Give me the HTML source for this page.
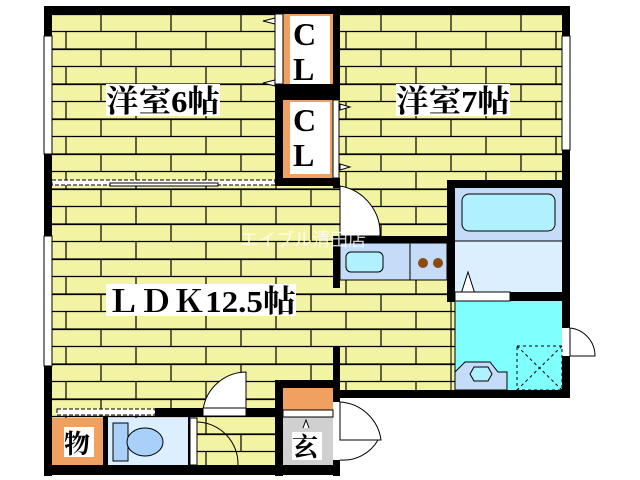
<!DOCTYPE html>
<html><head><meta charset="utf-8"><style>body{margin:0;background:#fff}svg{display:block}</style></head><body>
<svg width="640" height="480" viewBox="0 0 640 480" xmlns="http://www.w3.org/2000/svg">
<defs>
<pattern id="fl" x="52" y="14" width="140" height="35" patternUnits="userSpaceOnUse">
<rect width="140" height="35" fill="#f3f3a4"/>
<path d="M0 0.5H140M0 17.5H140M0 35H140M49 0V17.5M119 0V17.5M14 17.5V35M84 17.5V35" stroke="#000" stroke-width="1.2" fill="none"/>
</pattern>
</defs>
<rect x="52" y="14" width="510" height="376" fill="url(#fl)"/>
<rect x="52" y="390" width="281" height="80" fill="url(#fl)"/>
<rect x="455" y="187" width="107" height="105" fill="#dcefff"/>
<rect x="455" y="187" width="107" height="54" fill="#c4dcf8"/>
<rect x="462" y="194" width="93" height="37" rx="7" fill="#b0f0ff" stroke="#000"/>
<line x1="455" y1="241" x2="562" y2="241" stroke="#000"/>
<path d="M461 294 L468 272 L475 294 Z" fill="#fff" stroke="#000"/>
<rect x="455" y="301" width="107" height="89" fill="#80ffff"/>
<path d="M455 390 V372 L465 362 H490 L498 372 H507 V390 Z" fill="#c4dcf8" stroke="#000"/>
<path d="M470 374 L474 367 H488 L492 374 L488 381 H474 Z" fill="#b0f0ff" stroke="#000"/>
<rect x="517" y="346" width="45" height="44" fill="none" stroke="#000" stroke-dasharray="3,3"/>
<path d="M517 346 L562 390 M562 346 L517 390" stroke="#000" stroke-dasharray="3,3"/>
<line x1="451" y1="302" x2="451" y2="390" stroke="#000"/><line x1="455" y1="302" x2="455" y2="390" stroke="#000"/>
<rect x="340" y="243" width="107" height="37" fill="#c4dcf8" stroke="#000"/>
<line x1="410" y1="243" x2="410" y2="280" stroke="#000"/>
<rect x="346" y="252" width="37" height="20" rx="5" fill="#b0f0ff" stroke="#000"/>
<circle cx="423" cy="263" r="5" fill="#8b4a10"/><circle cx="438" cy="263" r="5" fill="#8b4a10"/>
<rect x="283" y="14" width="50" height="78" fill="#f0a060"/>
<rect x="290" y="16" width="40" height="70" fill="#fff"/>
<rect x="283" y="100" width="50" height="80" fill="#f0a060"/>
<rect x="290" y="102" width="40" height="72" fill="#fff"/>
<rect x="275" y="14" width="8" height="70" fill="#fff" stroke="#000"/>
<rect x="333" y="100" width="6" height="78" fill="#fff" stroke="#000"/>
<path d="M275 18 L263 21 L275 24Z M275 80 L263 83 L275 86Z M340 104 L350 107 L340 110Z M340 164 L350 167 L340 170Z" fill="#fff" stroke="#000"/>
<rect x="52" y="418" width="51" height="47" fill="#f0a060"/>
<rect x="108" y="418" width="80" height="47" fill="#dcefff"/>
<rect x="113" y="423" width="15" height="38" fill="#a8d0f8" stroke="#000"/>
<ellipse cx="145" cy="442" rx="18" ry="14" fill="#a8d0f8" stroke="#000"/>
<rect x="190" y="418" width="7" height="47" fill="#fff" stroke="#000"/>
<path d="M197 422 A42 42 0 0 1 238 465" fill="none" stroke="#000"/>
<rect x="283" y="388" width="50" height="22" fill="#f0a060"/>
<rect x="283" y="410" width="50" height="55" fill="#d0d0d0"/>
<rect x="283" y="410" width="50" height="7" fill="#fff" stroke="#000"/>
<path d="M303 428 L306 420 L309 428" fill="#fff" stroke="#000"/>
<path d="M340 186 A48 48 0 0 1 380 236 L340 236 Z" fill="#fff" stroke="#000"/>
<path d="M246 372 A44 44 0 0 0 203 410 L246 410 Z" fill="#fff" stroke="#000"/>
<path d="M340 402 A44 44 0 0 1 381 440 L340 440 Z" fill="#fff" stroke="#000"/>
<path d="M340 460 A40 40 0 0 0 378 440" fill="none" stroke="#000"/>
<path d="M570 328 A28 28 0 0 1 595 356 L570 356 Z" fill="#fff" stroke="#000"/>
<g fill="#000">
<rect x="44" y="6" width="526" height="8"/>
<rect x="44" y="6" width="8" height="470"/>
<rect x="562" y="6" width="8" height="30"/>
<rect x="562" y="150" width="8" height="36"/>
<rect x="275" y="84" width="65" height="16"/>
<rect x="333" y="14" width="7" height="86"/>
<rect x="275" y="84" width="8" height="102"/>
<rect x="275" y="178" width="65" height="8"/>
<rect x="333" y="178" width="7" height="10"/>
<rect x="333" y="236" width="7" height="52"/>
<rect x="340" y="236" width="107" height="7"/>
<rect x="447" y="180" width="123" height="8"/>
<rect x="447" y="180" width="8" height="121"/>
<rect x="562" y="180" width="8" height="148"/>
<rect x="562" y="356" width="8" height="42"/>
<rect x="510" y="292" width="60" height="9"/>
<rect x="447" y="292" width="8" height="10"/>
<rect x="447" y="390" width="123" height="8"/>
<rect x="340" y="390" width="110" height="8"/>
<rect x="333" y="346" width="7" height="56"/>
<rect x="333" y="460" width="7" height="16"/>
<rect x="275" y="380" width="65" height="8"/>
<rect x="275" y="380" width="8" height="96"/>
<rect x="155" y="408" width="48" height="8"/>
<rect x="246" y="408" width="37" height="8"/>
<rect x="103" y="416" width="5" height="50"/>
<rect x="188" y="416" width="2" height="50"/>
<rect x="44" y="465" width="296" height="10"/>
</g>
<rect x="44" y="36" width="8" height="118" fill="#fff" stroke="#000"/>
<rect x="44" y="236" width="8" height="130" fill="#fff" stroke="#000"/>
<rect x="562" y="36" width="8" height="114" fill="#fff" stroke="#000"/>
<rect x="455" y="292" width="55" height="9" fill="#fff" stroke="#000"/>
<rect x="52" y="180" width="223" height="5" fill="#fff" stroke="#000" stroke-dasharray="4,2"/>
<rect x="110" y="183" width="108" height="3" fill="#fff" stroke="#000"/>
<rect x="57" y="409" width="98" height="6" fill="#fff" stroke="#000" stroke-dasharray="4,2"/>
<rect x="203" y="408" width="43" height="8" fill="#fff" stroke="#000"/>
<g font-family="'Liberation Serif','Noto Serif CJK SC',serif" font-weight="bold" fill="#000" font-size="31">
<rect x="106" y="84" width="114" height="32" fill="#fff"/>
<text x="106" y="112" textLength="114" lengthAdjust="spacingAndGlyphs">洋室6帖</text>
<rect x="396" y="84" width="114" height="32" fill="#fff"/>
<text x="396" y="112" textLength="114" lengthAdjust="spacingAndGlyphs">洋室7帖</text>
<rect x="106" y="284" width="190" height="32" fill="#fff"/>
<text x="106" y="312" textLength="190" lengthAdjust="spacingAndGlyphs">ＬＤＫ12.5帖</text>
<text x="293" y="45" font-size="32">C</text><text x="293" y="80" font-size="32">L</text>
<text x="293" y="131" font-size="32">C</text><text x="293" y="166" font-size="32">L</text>
<rect x="64" y="427" width="30" height="30" fill="#fff"/>
<text x="64" y="453" font-size="26">物</text>
<rect x="292" y="432" width="30" height="28" fill="#fff"/>
<text x="292" y="456" font-size="26">玄</text>
</g>
<text x="240" y="246" font-family="'Liberation Sans','Noto Sans CJK JP',sans-serif" font-size="18" fill="#fff" opacity="0.8">エイブル清田店</text>
</svg>
</body></html>
